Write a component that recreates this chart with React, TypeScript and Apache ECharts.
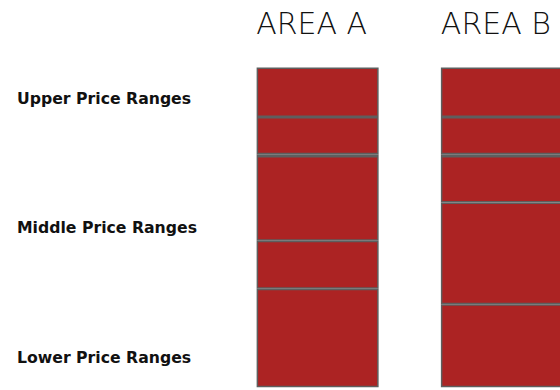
import React, { useEffect, useRef } from "react";
import * as echarts from "echarts";

const categories = ["AREA A", "AREA B"];
// stacked segments, bottom to top (share of 100)
const seg1 = [30.8, 26.0];
const seg2 = [15.0, 31.8];
const seg3 = [26.5, 14.5];
const seg4 = [0.6, 0.6];
const seg5 = [11.6, 11.6];
const seg6 = [15.5, 15.5];
const segments = [seg1, seg2, seg3, seg4, seg5, seg6];
const rangeTickValues = [9.4, 50, 90.3];
const rangeTickLabels = ["Lower Price Ranges", "Middle Price Ranges", "Upper Price Ranges"];

export default function App() {
  const ref = useRef<HTMLDivElement>(null);
  useEffect(() => {
    if (!ref.current) return;
    const chart = echarts.init(ref.current, null, { renderer: "svg" });
    chart.setOption({
      animation: false,
      grid: { left: 225.5, right: 0, top: 67.5, bottom: 2.7, containLabel: false },
      xAxis: {
        type: "category",
        position: "top",
        data: categories,
        axisLine: { show: false },
        axisTick: { show: false },
        axisLabel: {
          margin: 29,
          fontSize: 30,
          fontWeight: 200,
          fontFamily: "DejaVu Sans",
          color: "#111",
          padding: [0, 12, 0, 0],
        },
      },
      yAxis: {
        type: "value",
        min: 0,
        max: 100,
        splitLine: { show: false },
        axisLine: { show: false },
        axisTick: { show: false },
        axisLabel: {
          customValues: rangeTickValues,
          align: "left",
          margin: 208.5,
          fontSize: 15.7,
          fontWeight: "bold",
          fontFamily: "DejaVu Sans",
          color: "#111",
          formatter: (v: number) => {
            const i = rangeTickValues.indexOf(v);
            return i >= 0 ? rangeTickLabels[i] : "";
          },
        },
      },
      series: segments.map((d, i) => ({
        name: "Segment " + (i + 1),
        type: "bar",
        stack: "total",
        data: d,
        barWidth: 122,
        itemStyle: { color: "#AC2323", borderColor: "#5E5E5E", borderWidth: 1.5 },
      })),
    });
    return () => chart.dispose();
  }, []);
  return (
    <div style={{ position: "absolute", left: 0, top: 0, width: 560, height: 390, overflow: "hidden", background: "#fff" }}>
      <div ref={ref} style={{ position: "absolute", left: 0, top: 0, width: 594, height: 390 }} />
    </div>
  );
}
